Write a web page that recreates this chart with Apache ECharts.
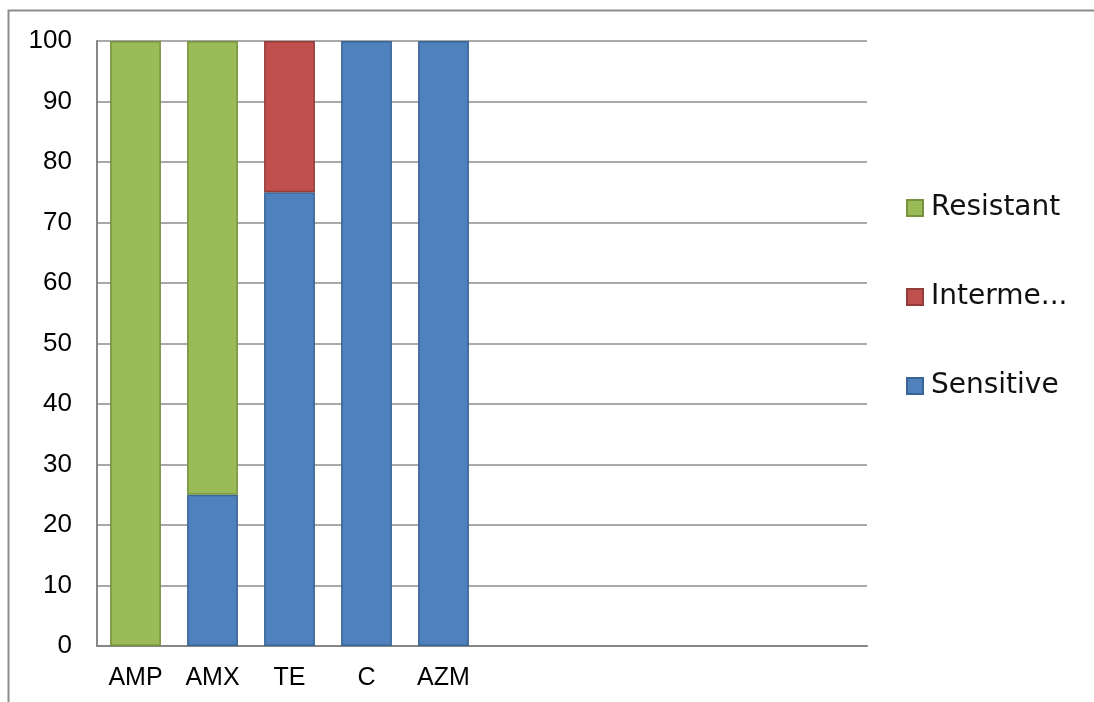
<!DOCTYPE html>
<html>
<head>
<meta charset="utf-8">
<script src="https://cdn.jsdelivr.net/npm/echarts@6/dist/echarts.min.js"></script>
<style>
  html, body { margin: 0; padding: 0; background: #fff; }
  #chart { width: 1094px; height: 702px; }
</style>
</head>
<body>
<div id="chart"></div>
<script>
// Antibiotic susceptibility (%) per drug; the axis keeps ten slots, five filled.
const categories = ['AMP', 'AMX', 'TE', 'C', 'AZM', '', '', '', '', ''];
const sensitive    = [0, 25, 75, 100, 100];
const intermediate = [0, 0, 25, 0, 0];
const resistant    = [100, 75, 0, 0, 0];
const yTicks = { min: 0, max: 100, interval: 10 };

const chart = echarts.init(document.getElementById('chart'), null, { renderer: 'canvas' });

const labelFont = 'Liberation Sans, Arial, sans-serif';

// Empty segments are skipped so they leave no outline on the stack.
function barSeries(name, data, fill, edge) {
  return {
    name: name,
    type: 'bar',
    stack: 'total',
    data: data.map(v => (v === 0 ? '-' : v)),
    barCategoryGap: '34%',
    itemStyle: { color: fill, borderColor: edge, borderWidth: 1.5 },
    emphasis: { disabled: true }
  };
}

chart.setOption({
  animation: false,
  backgroundColor: '#ffffff',
  graphic: [{
    type: 'rect',
    shape: { x: 8.5, y: 10.5, width: 1200, height: 800 },
    style: { fill: 'none', stroke: '#8c8c8c', lineWidth: 2 },
    silent: true
  }],
  grid: { left: 97, top: 41, right: 227, bottom: 56, containLabel: false },
  legend: {
    orient: 'vertical',
    left: 901,
    top: 189,
    itemGap: 61,
    itemWidth: 16,
    itemHeight: 16,
    icon: 'rect',
    data: ['Resistant', 'Intermediate', 'Sensitive'],
    textStyle: {
      fontFamily: 'DejaVu Sans, Verdana, sans-serif',
      fontSize: 28,
      color: '#111',
      width: 148,
      overflow: 'truncate',
      ellipsis: '...',
      padding: [0, 0, 0, 3]
    }
  },
  xAxis: {
    type: 'category',
    data: categories,
    axisLine: { show: true, lineStyle: { color: '#868686', width: 2 } },
    axisTick: { show: false },
    axisLabel: { fontFamily: labelFont, fontSize: 25, color: '#000', margin: 20, interval: 0 },
    splitLine: { show: false }
  },
  yAxis: {
    type: 'value',
    min: yTicks.min,
    max: yTicks.max,
    interval: yTicks.interval,
    axisLine: { show: true, lineStyle: { color: '#868686', width: 2 } },
    axisTick: { show: false },
    axisLabel: { fontFamily: labelFont, fontSize: 26, color: '#000', margin: 25 },
    splitLine: { show: true, lineStyle: { color: '#8c8c8c', width: 1.5 } }
  },
  series: [
    barSeries('Sensitive', sensitive, '#4f81bd', '#3a6597'),
    barSeries('Intermediate', intermediate, '#c0504d', '#943c3a'),
    barSeries('Resistant', resistant, '#9bbb59', '#76923f')
  ]
});
</script>
</body>
</html>
